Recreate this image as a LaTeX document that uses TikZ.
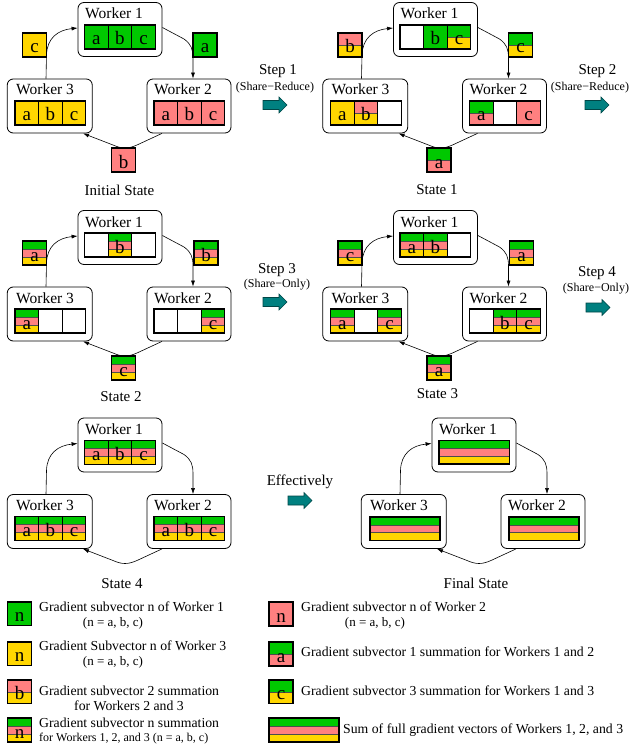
\documentclass[tikz,border=0pt]{standalone}
\usepackage{fontspec}
\setmainfont{Liberation Serif}
\usetikzlibrary{arrows.meta}
\definecolor{cg}{RGB}{0,200,0}
\definecolor{cp}{RGB}{255,128,128}
\definecolor{cy}{RGB}{255,214,0}
\definecolor{tealarr}{RGB}{0,128,128}
\newcounter{lt}
\tikzset{
  wbox/.style={draw=black, line width=0.8pt, rounded corners=6pt, fill=white, minimum width=84pt, minimum height=54pt, inner sep=0pt},
  wlab/.style={anchor=base west, inner sep=0pt, font=\fontsize{15.5}{17}\selectfont},
  lett/.style={anchor=base, inner sep=0pt, font=\fontsize{19}{21}\selectfont},
  conn/.style={-{Latex[length=6pt,width=4pt]}, line width=0.6pt},
  cellline/.style={draw=black, line width=1.1pt},
  sepline/.style={draw=black!70, line width=0.4pt},
  caption/.style={anchor=base, inner sep=0pt, font=\fontsize{15}{17}\selectfont},
  smallcap/.style={anchor=base, inner sep=0pt, font=\fontsize{12}{14}\selectfont},
  legtext/.style={anchor=base west, inner sep=0pt, font=\fontsize{13.75}{15}\selectfont},
  legsmall/.style={anchor=base, inner sep=0pt, font=\fontsize{13}{15}\selectfont},
  tealshape/.style={fill=tealarr, draw=tealarr!55!black, line width=0.6pt},
}
% \mycell{x}{y}{w}{h}{n}{colors}{letter}
\newcommand\mycell[7]{%
  \foreach \cc [count=\ii from 0] in {#6}{%
    \fill[\cc] (#1,{#2+\ii*#4/#5}) rectangle ({#1+#3},{#2+(\ii+1)*#4/#5});
    \ifnum\ii>0 \draw[sepline] (#1,{#2+\ii*#4/#5}) -- ({#1+#3},{#2+\ii*#4/#5});\fi
  }%
  \draw[cellline] (#1,#2) rectangle ({#1+#3},{#2+#4});
  \if\relax\detokenize{#7}\relax\else
    \stepcounter{lt}%
    \node[lett] (lt\arabic{lt}) at ({#1+#3/2},{#2+#4-4}) {#7};
  \fi
}
\newcommand\wc[5]{\mycell{#1}{#2}{23.6}{24}{#3}{#4}{#5}}
\newcommand\ck[5]{\mycell{#1}{#2}{24}{24}{#3}{#4}{#5}}
\newcommand\tealarrow[3]{%
  \filldraw[tealshape] (#2,{#3-4.5}) -- ({#2+16},{#3-4.5}) -- ({#2+16},{#3-8}) -- ({#2+24},#3) -- ({#2+16},{#3+8}) -- ({#2+16},{#3+4.5}) -- (#2,{#3+4.5}) -- cycle;
  \coordinate (#1) at ({#2+12},#3);}
% \ringpanel{prefix}{dx}{dy}{content}
\newcommand\ringpanel[4]{%
  \begin{scope}[shift={(#2,#3)}]
    \node[wbox] (#1w1) at (120,29.5) {};
    \node[wbox, minimum width=85pt] (#1w3) at (49.75,106) {};
    \node[wbox] (#1w2) at (189,106) {};
    \node[wlab] (#1l1) at (85,19) {Worker 1};
    \node[wlab] (#1l3) at (16,95) {Worker 3};
    \node[wlab] (#1l2) at (154,95) {Worker 2};
    \draw[conn] ([xshift=-3.75pt]#1w3.north) -- (46.5,55) .. controls (47,38) and (58,30) .. ([yshift=1.5pt]#1w1.west);
    \draw[conn] ([yshift=2pt]#1w1.east) -- (184,39) .. controls (191,44) and (193,49) .. (193,58) -- ([xshift=4pt]#1w2.north);
    \draw[conn] ([xshift=-27pt]#1w2.south) -- (137,145) .. controls (128,149) and (122,149) .. (113,145) -- ([xshift=33.25pt]#1w3.south);
    #4
  \end{scope}}
\begin{document}
\begin{tikzpicture}[x=1pt,y=-1pt]
\useasboundingbox (0,0) rectangle (629,749);

% Initial state
\ringpanel{pa}{0}{0}{%
  \wc{84.5}{25}{1}{cg}{a}\wc{108.1}{25}{1}{cg}{b}\wc{131.7}{25}{1}{cg}{c}
  \wc{15}{101}{1}{cy}{a}\wc{38.6}{101}{1}{cy}{b}\wc{62.2}{101}{1}{cy}{c}
  \wc{154}{101}{1}{cp}{a}\wc{177.6}{101}{1}{cp}{b}\wc{201.2}{101}{1}{cp}{c}
  \ck{22.5}{33}{1}{cy}{c}\ck{193}{33}{1}{cg}{a}\ck{111.5}{148}{1}{cp}{b}
}
\node[caption] (capa) at (119.5,195) {Initial State};

% State 1
\ringpanel{pb}{315.5}{0}{%
  \wc{84.5}{25}{1}{white}{}\wc{108.1}{25}{1}{cg}{b}\wc{131.7}{25}{2}{cg,cy}{c}
  \wc{15}{101}{1}{cy}{a}\wc{38.6}{101}{2}{cp,cy}{b}\wc{62.2}{101}{1}{white}{}
  \wc{154}{101}{2}{cg,cp}{a}\wc{177.6}{101}{1}{white}{}\wc{201.2}{101}{1}{cp}{c}
  \ck{22.5}{33}{2}{cp,cy}{b}\ck{193}{33}{2}{cg,cy}{c}\ck{111.5}{148}{2}{cg,cp}{a}
}
\node[caption] (capb) at (437,194.5) {State 1};

% State 2
\ringpanel{pc}{0}{208}{%
  \wc{84.5}{25}{1}{white}{}\wc{108.1}{25}{3}{cg,cp,cy}{b}\wc{131.7}{25}{1}{white}{}
  \wc{15}{101}{3}{cg,cp,cy}{a}\wc{38.6}{101}{1}{white}{}\wc{62.2}{101}{1}{white}{}
  \wc{154}{101}{1}{white}{}\wc{177.6}{101}{1}{white}{}\wc{201.2}{101}{3}{cg,cp,cy}{c}
  \ck{22.5}{33}{3}{cg,cp,cy}{a}\ck{194}{33}{3}{cg,cp,cy}{b}\ck{111.5}{148}{3}{cg,cp,cy}{c}
}
\node[caption] (capc) at (121,401) {State 2};

% State 3
\ringpanel{pd}{315.5}{208}{%
  \wc{84.5}{25}{3}{cg,cp,cy}{a}\wc{108.1}{25}{3}{cg,cp,cy}{b}\wc{131.7}{25}{1}{white}{}
  \wc{15}{101}{3}{cg,cp,cy}{a}\wc{38.6}{101}{1}{white}{}\wc{62.2}{101}{3}{cg,cp,cy}{c}
  \wc{154}{101}{1}{white}{}\wc{177.6}{101}{3}{cg,cp,cy}{b}\wc{201.2}{101}{3}{cg,cp,cy}{c}
  \ck{22.5}{33}{3}{cg,cp,cy}{c}\ck{194}{33}{3}{cg,cp,cy}{a}\ck{111.5}{148}{3}{cg,cp,cy}{a}
}
\node[caption] (capd) at (437.5,398) {State 3};

% State 4
\ringpanel{pe}{0}{415.5}{%
  \wc{84.5}{25}{3}{cg,cp,cy}{a}\wc{108.1}{25}{3}{cg,cp,cy}{b}\wc{131.7}{25}{3}{cg,cp,cy}{c}
  \wc{15}{101}{3}{cg,cp,cy}{a}\wc{38.6}{101}{3}{cg,cp,cy}{b}\wc{62.2}{101}{3}{cg,cp,cy}{c}
  \wc{154}{101}{3}{cg,cp,cy}{a}\wc{177.6}{101}{3}{cg,cp,cy}{b}\wc{201.2}{101}{3}{cg,cp,cy}{c}
}
\node[caption] (cape) at (122,588) {State 4};

% Final state
\ringpanel{pf}{354}{415.5}{%
  \mycell{85}{25}{70.5}{23.5}{3}{cg,cp,cy}{}
  \mycell{16}{101.5}{70}{23.5}{3}{cg,cp,cy}{}
  \mycell{155}{101.5}{70}{23.5}{3}{cg,cp,cy}{}
}
\node[caption] (capf) at (476,588) {Final State};

% Steps
\node[caption] (s1) at (278,75) {Step 1};
\node[smallcap] (s1b) at (275,91) {(Share−Reduce)};
\tealarrow{a1}{263}{105}
\node[caption] (s2) at (597.5,75) {Step 2};
\node[smallcap] (s2b) at (590,91) {(Share−Reduce)};
\tealarrow{a2}{585}{105}
\node[caption] (s3) at (277,273) {Step 3};
\node[smallcap] (s3b) at (277,287) {(Share−Only)};
\tealarrow{a3}{263}{302}
\node[caption] (s4) at (597,276) {Step 4};
\node[smallcap] (s4b) at (596,291) {(Share−Only)};
\tealarrow{a4}{586}{307.5}
\node[caption] (s5) at (300,485) {Effectively};
\tealarrow{a5}{288}{500.5}

% Legend
\mycell{7.5}{602}{24}{23.5}{1}{cg}{n}
\node[legtext] (g1) at (39,611) {Gradient subvector n of Worker 1};
\node[legsmall] (g1b) at (113,626.5) {(n = a, b, c)};
\mycell{7.5}{642}{24}{23.5}{1}{cy}{n}
\node[legtext] (g2) at (39,650) {Gradient Subvector n of Worker 3};
\node[legsmall] (g2b) at (113,665) {(n = a, b, c)};
\mycell{7.5}{680}{24}{23.5}{2}{cp,cy}{b}
\node[legtext] (g3) at (39,695) {Gradient subvector 2 summation};
\node[legtext, anchor=base] (g3b) at (129,710) {for Workers 2 and 3};
\mycell{7.5}{718}{24}{24}{3}{cg,cp,cy}{n}
\node[legtext] (g4) at (39,727) {Gradient subvector n summation};
\node[legtext, font=\fontsize{12}{14}\selectfont] (g4b) at (39,741) {for Workers 1, 2, and 3 (n = a, b, c)};

\mycell{269}{602}{24}{24}{1}{cp}{n}
\node[legtext] (g5) at (301,611) {Gradient subvector n of Worker 2};
\node[legsmall] (g5b) at (375,626.5) {(n = a, b, c)};
\mycell{269}{642}{24}{24}{2}{cg,cp}{a}
\node[legtext] (g6) at (301,656) {Gradient subvector 1 summation for Workers 1 and 2};
\mycell{269}{680}{24}{23.5}{2}{cg,cy}{c}
\node[legtext] (g7) at (301,695) {Gradient subvector 3 summation for Workers 1 and 3};
\mycell{269}{718}{70}{24}{3}{cg,cp,cy}{}
\node[legtext] (g8) at (343,733) {Sum of full gradient vectors of Workers 1, 2, and 3};
\end{tikzpicture}
\end{document}
